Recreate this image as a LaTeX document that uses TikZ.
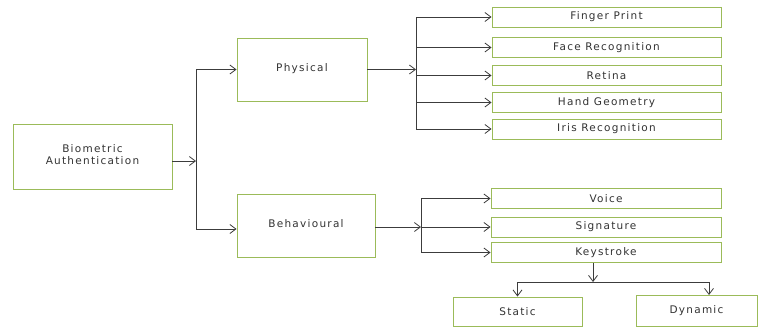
\documentclass[tikz,border=0pt]{standalone}
\usepackage{fontspec}
\newfontfamily\lblfont[LetterSpace=12]{DejaVu Sans}
\usetikzlibrary{arrows.meta}
\definecolor{boxgreen}{HTML}{9BBB59}
\definecolor{linegray}{HTML}{3C3C3C}
\definecolor{txtgray}{HTML}{333333}
\begin{document}
\begin{tikzpicture}[x=1pt,y=-1pt,
  box/.style={draw=boxgreen, line width=0.9pt, fill=white, rectangle, inner sep=0pt,
    font=\lblfont\fontsize{10.5}{13}\selectfont, text=txtgray, align=center},
  conn/.style={draw=linegray, line width=0.9pt},
  arr/.style={conn, -{Straight Barb[length=6pt,width=9pt,line width=0.8pt]}}]
\useasboundingbox[fill=white] (0,0) rectangle (759,327);
% main boxes
\node[box, minimum width=159, minimum height=65] (bio) at (92.5,156.5) {\raisebox{4pt}{\shortstack{Biometric\\[1pt]Authentication}}};
\node[box, minimum width=130, minimum height=63] (phys) at (302,69.5) {\raisebox{4pt}{Physical}};
\node[box, minimum width=138, minimum height=63] (behav) at (306,225.5) {\raisebox{4pt}{Behavioural}};
% physical list
\node[box, minimum width=229, minimum height=20] (fp) at (606.5,17) {Finger Print};
\node[box, minimum width=229, minimum height=20] (face) at (606.5,47.5) {Face Recognition};
\node[box, minimum width=229, minimum height=20] (ret) at (606.5,75.5) {Retina};
\node[box, minimum width=229, minimum height=20] (hand) at (606.5,102.5) {Hand Geometry};
\node[box, minimum width=229, minimum height=20] (iris) at (606.5,129) {Iris Recognition};
% behavioural list
\node[box, minimum width=230, minimum height=20] (voice) at (606,198.5) {Voice};
\node[box, minimum width=230, minimum height=20] (sig) at (606,227) {Signature};
\node[box, minimum width=230, minimum height=20] (key) at (606,252.5) {Keystroke};
% keystroke children
\node[box, minimum width=129, minimum height=29] (stat) at (517.5,311.5) {Static};
\node[box, minimum width=121, minimum height=31] (dyn) at (696.5,310.5) {Dynamic};
% junction coordinates
\coordinate (j1) at (196,161);
\coordinate (j1t) at (196,69.5);
\coordinate (j1b) at (196,229);
\coordinate (j2) at (416,69.5);
\coordinate (j2t) at (416,17);
\coordinate (j2b) at (416,129);
\coordinate (j3) at (421,227);
\coordinate (j3t) at (421,198.5);
\coordinate (j3b) at (421,252.5);
\coordinate (ks) at (593,262.5);
\coordinate (k1) at (593,282);
\coordinate (kl) at (517.5,282);
\coordinate (kr) at (709,282);
\coordinate (dtop) at (709,295);
% connectors
\draw[arr] (bio.east |- j1) -- (j1);
\draw[conn] (j1t) -- (j1b);
\draw[arr] (j1t) -- (phys.west);
\draw[arr] (j1b) -- (behav.west |- j1b);
\draw[arr] (phys.east) -- (j2);
\draw[conn] (j2t) -- (j2b);
\foreach \n in {fp,face,ret,hand,iris} \draw[arr] (j2 |- \n.west) -- (\n.west);
\draw[arr] (behav.east |- j3) -- (j3);
\draw[conn] (j3t) -- (j3b);
\foreach \n in {voice,sig,key} \draw[arr] (j3 |- \n.west) -- (\n.west);
\draw[arr] (ks) -- (k1);
\draw[conn] (kl) -- (kr);
\draw[arr] (kl) -- (stat.north);
\draw[arr] (kr) -- (dtop);
\end{tikzpicture}
\end{document}
